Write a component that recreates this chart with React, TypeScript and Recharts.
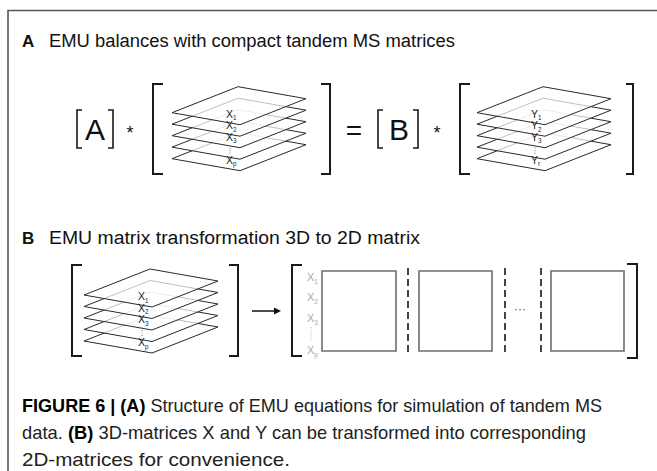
import React from 'react';
import { ComposedChart, XAxis, YAxis, Line, ReferenceArea, ReferenceDot } from 'recharts';

const W = 657;
const H = 471;
const FONT = "'Liberation Sans', Arial, Helvetica, sans-serif";

// outer frame (top + left edges)
const frameX = [8, 8, 657];
const frameY = [471, 10.5, 10.5];

// square brackets
const bracketX = [77, 113, 153, 330, 378, 418, 460, 633, 72, 238, 292, 637];
const bracketTop = [110, 110, 84, 84, 110, 110, 84, 84, 265, 265, 265, 264];
const bracketBottom = [148, 148, 174, 174, 148, 148, 174, 174, 356, 356, 356, 358];
const bracketSerif = [5, -5, 10, -9, 5, -5, 10, -7, 10, -9, 10, -10];
const bracketWeight = [1.6, 1.6, 2, 2, 1.6, 1.6, 2, 2, 2, 2, 2, 2];

// stacked 3D matrices
const stackLeft = [172, 477, 84];
const stackFirstY = [112.7, 112.7, 295];
const layerSteps = [0, 11.5, 23, 34.5, 46];
const stackLetter = ['X', 'Y', 'X'];
const stackSubs = [['1', '2', '3', 'p'], ['1', '2', '3', 'r'], ['1', '2', '3', 'p']];
const LAYER_W = 134;
const LAYER_RISE = 26;
const LAYER_DROP = 12;
const TOP_DX = 66;
const BOTTOM_DX = 68;

// 2D matrix blocks
const blockX1 = [322, 419, 551];
const blockX2 = [396, 492, 624];
const blockTop = 271;
const blockBottom = 351;
const dashX = [408, 505, 541];
const dashTop = 268;
const dashBottom = 354;
const rowLabelY = [281, 301, 322, 354];
const rowLabelSubs = ['1', '2', '3', 'p'];

// arrow
const arrowX = [252, 277];
const arrowY = 311;

const seg = (xs: number[], ys: number[]) => xs.map((x, i) => ({ x, y: ys[i] }));

const LayerShape = (p: any) => {
  const { x, y, width: w, height: h } = p;
  const hh = LAYER_RISE + LAYER_DROP;
  const pts = [
    [x, y + (h * LAYER_RISE) / hh],
    [x + (w * TOP_DX) / LAYER_W, y],
    [x + w, y + (h * LAYER_DROP) / hh],
    [x + (w * BOTTOM_DX) / LAYER_W, y + h],
  ];
  return (
    <polygon
      points={pts.map((q) => q.join(',')).join(' ')}
      fill="#ffffff"
      fillOpacity={0.7}
      stroke="#2a2a2a"
      strokeWidth={1}
      strokeLinejoin="miter"
    />
  );
};

type TextItem = {
  x: number;
  y: number;
  node: React.ReactNode;
  size: number;
  weight?: string | number;
  anchor?: 'start' | 'middle' | 'end';
  fill?: string;
  len?: number;
};

const makeText = (t: TextItem) => (p: any) => (
  <text
    x={p.cx}
    y={p.cy}
    fontFamily={FONT}
    fontSize={t.size}
    fontWeight={t.weight ?? 'normal'}
    textAnchor={t.anchor ?? 'start'}
    fill={t.fill ?? '#111'}
    {...(t.len ? { textLength: t.len, lengthAdjust: 'spacingAndGlyphs' } : {})}
  >
    {t.node}
  </text>
);

const sub = (letter: string, s: string, size: number) => (
  <>
    <tspan>{letter}</tspan>
    <tspan fontSize={size * 0.6} dy={size * 0.25}>{s}</tspan>
  </>
);

const texts: TextItem[] = [
  { x: 22, y: 47, node: 'A', size: 17, weight: 'bold' },
  { x: 49, y: 47, node: 'EMU balances with compact tandem MS matrices', size: 18, len: 406 },
  { x: 22, y: 244, node: 'B', size: 17, weight: 'bold' },
  { x: 49, y: 244, node: 'EMU matrix transformation 3D to 2D matrix', size: 18, len: 371 },
  { x: 95, y: 140, node: 'A', size: 30, anchor: 'middle' },
  { x: 130, y: 139, node: '*', size: 18, anchor: 'middle' },
  { x: 354, y: 140, node: '=', size: 28, anchor: 'middle' },
  { x: 399, y: 140, node: 'B', size: 30, anchor: 'middle' },
  { x: 437, y: 139, node: '*', size: 18, anchor: 'middle' },
  { x: 520, y: 313, node: '···', size: 12, anchor: 'middle', fill: '#555' },
  {
    x: 22,
    y: 412,
    node: (
      <>
        <tspan fontWeight="bold" fill="#000">FIGURE 6 | (A)</tspan>
        <tspan> Structure of EMU equations for simulation of tandem MS</tspan>
      </>
    ),
    size: 19,
    fill: '#222',
    len: 580,
  },
  {
    x: 22,
    y: 439,
    node: (
      <>
        <tspan>data. </tspan>
        <tspan fontWeight="bold" fill="#000">(B)</tspan>
        <tspan> 3D-matrices X and Y can be transformed into corresponding</tspan>
      </>
    ),
    size: 19,
    fill: '#222',
    len: 564,
  },
  { x: 22, y: 466, node: '2D-matrices for convenience.', size: 19, fill: '#222', len: 268 },
];

// stack labels
stackLeft.forEach((L, s) => {
  const y0 = stackFirstY[s];
  [0, 1, 2, 4].forEach((li, k) => {
    texts.push({
      x: L + 54,
      y: y0 + layerSteps[li] + 5,
      node: sub(stackLetter[s], stackSubs[s][k], 10.5),
      size: 10.5,
      fill: '#222',
    });
  });
});
rowLabelY.forEach((y, i) => {
  texts.push({ x: 307, y, node: sub('X', rowLabelSubs[i], 11), size: 11, fill: '#aaa' });
});

const lineProps = { dataKey: 'y', dot: false, activeDot: false, isAnimationActive: false, legendType: 'none' as const };

export default function App() {
  return (
    <div style={{ position: 'absolute', left: 0, top: 0, width: W, height: H, background: '#fff' }}>
      <ComposedChart width={W} height={H} margin={{ top: 0, right: 0, bottom: 0, left: 0 }}>
        <XAxis type="number" dataKey="x" domain={[0, W]} hide allowDataOverflow />
        <YAxis type="number" dataKey="y" domain={[0, H]} reversed hide allowDataOverflow />

        {/* frame */}
        <Line {...lineProps} data={seg(frameX, frameY)} stroke="#555" strokeWidth={1.6} />

        {/* 2D blocks */}
        {blockX1.map((x1, i) => (
          <ReferenceArea
            key={'blk' + i}
            x1={x1}
            x2={blockX2[i]}
            y1={blockTop}
            y2={blockBottom}
            fill="#fff"
            fillOpacity={1}
            stroke="#6d6d6d"
            strokeWidth={1.6}
          />
        ))}

        {/* stacked layers, bottom first */}
        {stackLeft.map((L, s) =>
          [...layerSteps].reverse().map((d, k) => {
            const y0 = stackFirstY[s] + d;
            return (
              <ReferenceArea
                key={'ly' + s + '-' + k}
                x1={L}
                x2={L + LAYER_W}
                y1={y0 - LAYER_RISE}
                y2={y0 + LAYER_DROP}
                shape={LayerShape}
              />
            );
          })
        )}

        {/* brackets */}
        {bracketX.map((x, i) => (
          <Line
            key={'br' + i}
            {...lineProps}
            data={seg(
              [x + bracketSerif[i], x, x, x + bracketSerif[i]],
              [bracketTop[i], bracketTop[i], bracketBottom[i], bracketBottom[i]]
            )}
            stroke="#1a1a1a"
            strokeWidth={bracketWeight[i]}
          />
        ))}

        {/* dashed separators */}
        {dashX.map((x, i) => (
          <Line
            key={'ds' + i}
            {...lineProps}
            data={seg([x, x], [dashTop, dashBottom])}
            stroke="#444"
            strokeWidth={2}
            strokeDasharray="7 4"
          />
        ))}

        {/* vertical dotted ellipsis in stacks */}
        {stackLeft.map((L, s) => (
          <Line
            key={'vd' + s}
            {...lineProps}
            data={seg([L + 58, L + 58], [stackFirstY[s] + layerSteps[3] - 2, stackFirstY[s] + layerSteps[3] + 8])}
            stroke="#777"
            strokeWidth={1}
            strokeDasharray="1 1.5"
          />
        ))}
        <Line
          {...lineProps}
          data={seg([311, 311], [327, 341])}
          stroke="#bbb"
          strokeWidth={1}
          strokeDasharray="1 1.5"
        />

        {/* arrow */}
        <Line {...lineProps} data={seg(arrowX, [arrowY, arrowY])} stroke="#111" strokeWidth={1.5} />
        <ReferenceDot
          x={arrowX[1]}
          y={arrowY}
          r={0}
          shape={(p: any) => (
            <polygon points={`${p.cx - 3},${p.cy - 3.5} ${p.cx + 4},${p.cy} ${p.cx - 3},${p.cy + 3.5}`} fill="#111" />
          )}
        />

        {/* texts */}
        {texts.map((t, i) => (
          <ReferenceDot key={'tx' + i} x={t.x} y={t.y} r={0} shape={makeText(t)} />
        ))}
      </ComposedChart>
    </div>
  );
}
